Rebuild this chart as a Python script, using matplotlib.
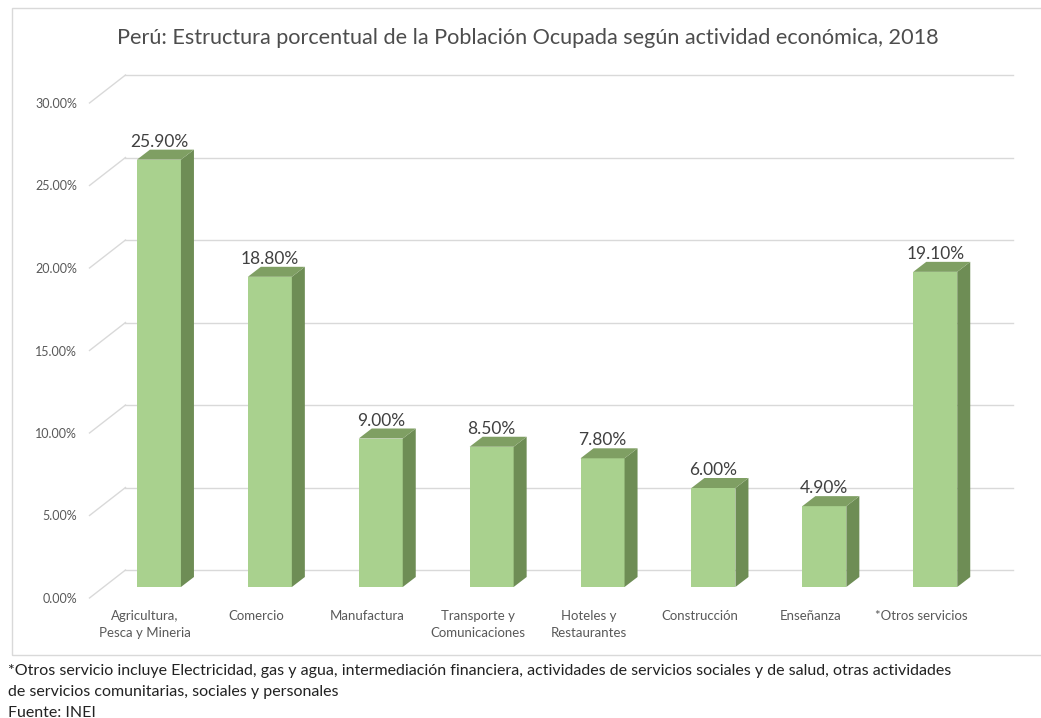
import numpy as np
import matplotlib.pyplot as plt
from matplotlib.patches import Polygon, Rectangle

# data
categories = ["Agricultura,\nPesca y Mineria", "Comercio", "Manufactura",
              "Transporte y\nComunicaciones", "Hoteles y\nRestaurantes",
              "Construcción", "Enseñanza", "*Otros servicios"]
values = [25.9, 18.8, 9.0, 8.5, 7.8, 6.0, 4.9, 19.1]
yticks = [0, 5, 10, 15, 20, 25, 30]

title = "Perú: Estructura porcentual de la Población Ocupada según actividad económica, 2018"
footnote = ["*Otros servicio incluye Electricidad, gas y agua, intermediación financiera, "
            "actividades de servicios sociales y de salud, otras actividades",
            "de servicios comunitarias, sociales y personales",
            "Fuente: INEI"]

plt.rcParams['font.family'] = ['Lato', 'DejaVu Sans']

W, H = 1041, 718
fig = plt.figure(figsize=(W / 100, H / 100), dpi=100)

# chart frame
fig.patches.append(Rectangle((12 / W, 1 - 655 / H), 1.1, (655 - 8) / H,
                             transform=fig.transFigure, fill=False,
                             edgecolor="#d9d9d9", linewidth=1.0))

# front plane: x from 89.5 to 976.7 px, y 0% at 598, 30% at 103
ax = fig.add_axes([89.5 / W, 1 - 598 / H, 887.2 / W, 495 / H])
ax.set_xlim(-0.5, 7.5)
ax.set_ylim(0, 30)
for s in ax.spines.values():
    s.set_visible(False)
ax.patch.set_visible(False)

px_x = 887.2 / 8     # px per category
px_y = 495 / 30      # px per percent

# depth offsets (px -> data)
wall_dx, wall_dy = 36 / px_x, 28 / px_y
front_dx, front_dy = 14 / px_x, 11 / px_y
deep_dx, deep_dy = 13 / px_x, 10 / px_y
bar_w = 44 / px_x

grid_c = "#d9d9d9"
for v in yticks:
    ax.plot([-0.5, -0.5 + wall_dx], [v, v + wall_dy], color=grid_c, lw=1, clip_on=False)
    ax.plot([-0.5 + wall_dx, 7.5 + wall_dx], [v + wall_dy, v + wall_dy],
            color=grid_c, lw=1, clip_on=False)

x = np.arange(len(categories))
xc = x + front_dx
ax.bar(xc, values, width=bar_w, bottom=front_dy, color="#a9d18e",
       edgecolor="none", zorder=3)

for xi, v in zip(xc, values):
    xl, xr = xi - bar_w / 2, xi + bar_w / 2
    b, t = front_dy, front_dy + v
    side = Polygon([(xr, b), (xr + deep_dx, b + deep_dy),
                    (xr + deep_dx, t + deep_dy), (xr, t)],
                   closed=True, facecolor="#6e8d55", edgecolor="none", zorder=3)
    top = Polygon([(xl, t), (xr, t), (xr + deep_dx, t + deep_dy), (xl + deep_dx, t + deep_dy)],
                  closed=True, facecolor="#7f9f63", edgecolor="none", zorder=3)
    ax.add_patch(side)
    ax.add_patch(top)
    ax.annotate(f"{v:.2f}%", xy=(xi, t + deep_dy), xytext=(0, 0),
                textcoords="offset points", ha="center", va="bottom",
                fontsize=12.5, color="#404040", zorder=4)

ax.set_yticks(yticks)
ax.set_yticklabels([f"{v:.2f}%" for v in yticks], fontsize=9, color="#595959")
ax.set_xticks(x)
ax.set_xticklabels(categories, fontsize=9.5, color="#595959", linespacing=1.45)
ax.tick_params(axis="both", length=0)
ax.tick_params(axis="y", pad=9)
ax.tick_params(axis="x", pad=9)

fig.text(528 / W, 1 - 38 / H, title, ha="center", va="center",
         fontsize=15.6, color="#4d4d4d")

for i, line in enumerate(footnote):
    fig.text(8 / W, 1 - (671 + 21 * i) / H, line, ha="left", va="center",
             fontsize=11.5, color="#222222")

fig.savefig("out.png", dpi=100)
